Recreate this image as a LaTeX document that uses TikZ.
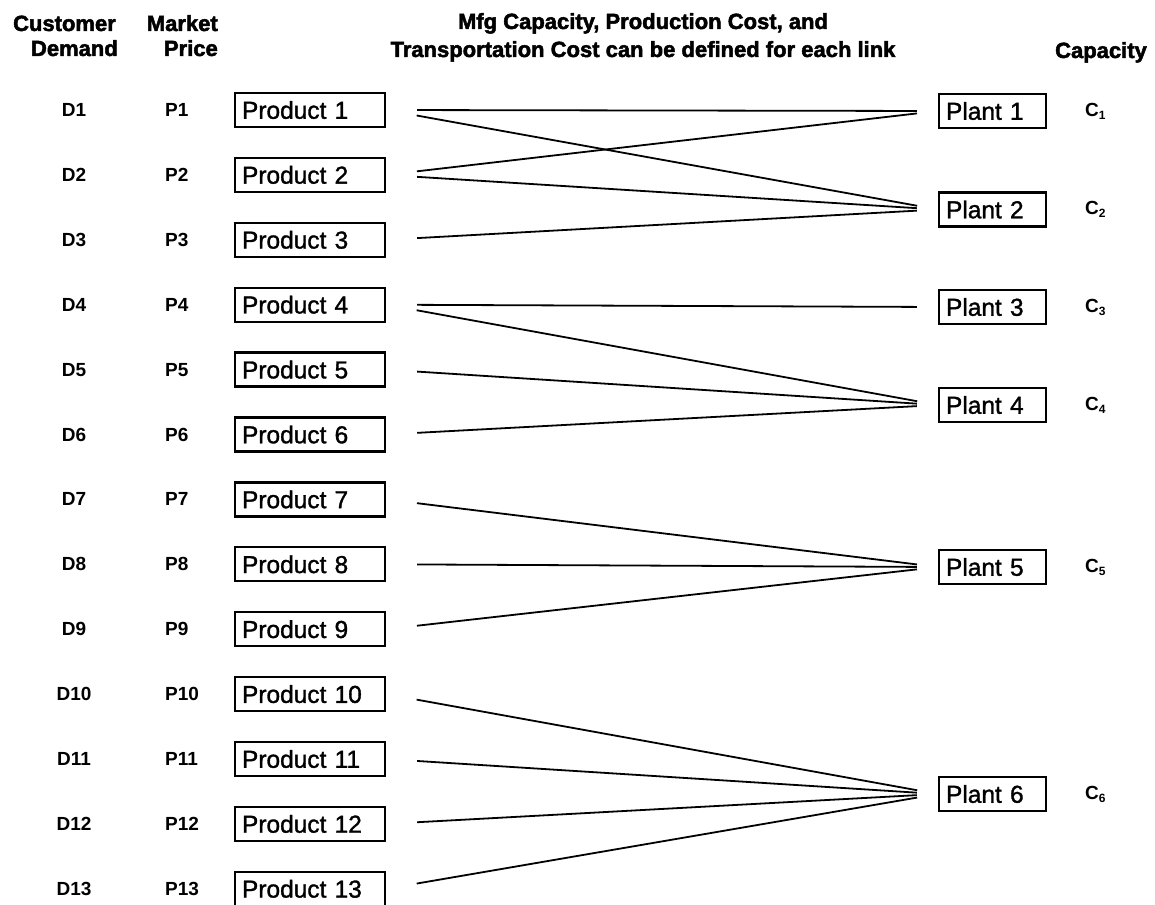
\documentclass[tikz,border=0pt]{standalone}
\usepackage{fontspec}
\setmainfont{Liberation Sans}
\newfontfamily\hdrfont{Liberation Sans Bold}[FakeBold=2.2]
\newfontfamily\lblfont{Liberation Sans Bold}
\newfontfamily\txtfont{Liberation Sans}[FakeBold=1.3]
\begin{document}
\begin{tikzpicture}[x=1pt,y=-1pt,
  hdr/.style={font=\hdrfont\fontsize{22}{26}\selectfont, inner sep=0pt},
  lbl/.style={font=\lblfont\fontsize{19}{23}\selectfont, inner sep=0pt},
  prodbox/.style={draw, line width=2.3pt, font=\txtfont\fontsize{24.5}{29}\selectfont,
    text width=136pt, align=left, inner xsep=7pt, inner ysep=0pt,
    minimum height=34pt},
  plantbox/.style={draw, line width=2.3pt, font=\txtfont\fontsize{24.5}{29}\selectfont,
    text width=93pt, align=left, inner xsep=7pt, inner ysep=0pt,
    minimum height=34pt},
  link/.style={line width=1.8pt, shorten <=31pt, shorten >=21pt}
]
\useasboundingbox (0,0) rectangle (1155,904);

% column headings
\node[hdr, anchor=base east] (hcust) at (116,31) {Customer};
\node[hdr, anchor=base east] (hdem)  at (118,56) {Demand};
\node[hdr, anchor=base east] (hmkt)  at (218,31) {Market};
\node[hdr, anchor=base east] (hpri)  at (218,56) {Price};
\node[hdr, anchor=base] (hlink1) at (643,29) {Mfg Capacity, Production Cost, and};
\node[hdr, anchor=base] (hlink2) at (643,57) {Transportation Cost can be defined for each link};
\node[hdr, anchor=base] (hcap)   at (1101,58) {Capacity};

% products with their demand and price
\foreach \k in {1,...,13} {
  \pgfmathsetmacro{\yy}{110+64.9*(\k-1)}
  \node[lbl] (d\k) at (74,\yy) {D\k};
  \node[lbl, anchor=west] (pr\k) at (165,\yy) {P\k};
  \node[prodbox] (p\k) at (310,\yy) {Product \k};
}

% plants with their capacity
\foreach \j/\yy in {1/111, 2/209.5, 3/307, 4/405, 5/567, 6/794} {
  \node[plantbox] (q\j) at (992.5,\yy) {Plant \j};
  \node[lbl, anchor=west] (c\j) at (1085,\yy)
    {C\raisebox{-3pt}{\fontsize{12}{12}\selectfont\j}};
}

% product-plant links
\foreach \a/\b in {1/1, 1/2, 2/1, 2/2, 3/2, 4/3, 4/4, 5/4, 6/4,
                   7/5, 8/5, 9/5, 10/6, 11/6, 12/6, 13/6} {
  \draw[link] (p\a.east) -- (q\b.west);
}
\end{tikzpicture}
\end{document}
